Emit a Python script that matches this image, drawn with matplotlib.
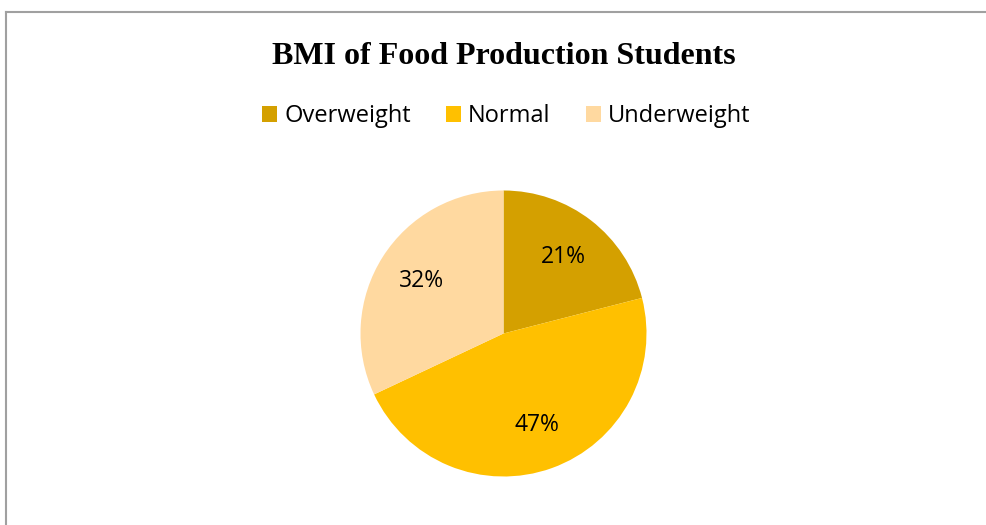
import matplotlib
matplotlib.use("Agg")
import matplotlib.pyplot as plt
from matplotlib.patches import Patch
from matplotlib.lines import Line2D

# chart data
categories = ["Overweight", "Normal", "Underweight"]
shares = [21, 47, 32]
colors = ["#D4A000", "#FFC000", "#FFD9A0"]
title = "BMI of Food Production Students"

W, H = 987, 525
fig = plt.figure(figsize=(W / 100, H / 100), dpi=100)
fig.patch.set_facecolor("white")

# grey frame (top + left only are visible in the crop)
fig.add_artist(Line2D([6 / W, 1], [1 - 12 / H, 1 - 12 / H], color="#A0A0A0", lw=1.5))
fig.add_artist(Line2D([6 / W, 6 / W], [1 - 12 / H, 0], color="#A0A0A0", lw=1.5))

# pie axes: centre (503, 333) px, radius 143 px
r = 143
cx, cy = 503.5, 333.5
ax = fig.add_axes([(cx - r) / W, 1 - (cy + r) / H, 2 * r / W, 2 * r / H])
wedges, texts, autotexts = ax.pie(
    shares, colors=colors, startangle=90, counterclock=False,
    autopct="%1.0f%%", pctdistance=0.68,
    wedgeprops=dict(linewidth=0),
    textprops=dict(fontsize=16.5, family="Open Sans", color="black"),
)
ax.set_xlim(-1, 1)
ax.set_ylim(-1, 1)
ax.set_aspect("equal")
for w in wedges:
    w.set_clip_on(False)

fig.text(0.51, 1 - 56 / H, title, ha="center", va="center",
         fontsize=23, fontweight="bold", family="Liberation Serif")

handles = [Patch(facecolor=c, edgecolor="none") for c in colors]
fig.legend(handles, categories, loc="center", bbox_to_anchor=(0.513, 1 - 116 / H),
           ncol=3, frameon=False, prop=dict(family="Open Sans", size=17),
           handlelength=0.64, handleheight=0.64, handletextpad=0.3,
           columnspacing=1.5, borderaxespad=0)

fig.savefig("out.png", dpi=100, facecolor="white")
